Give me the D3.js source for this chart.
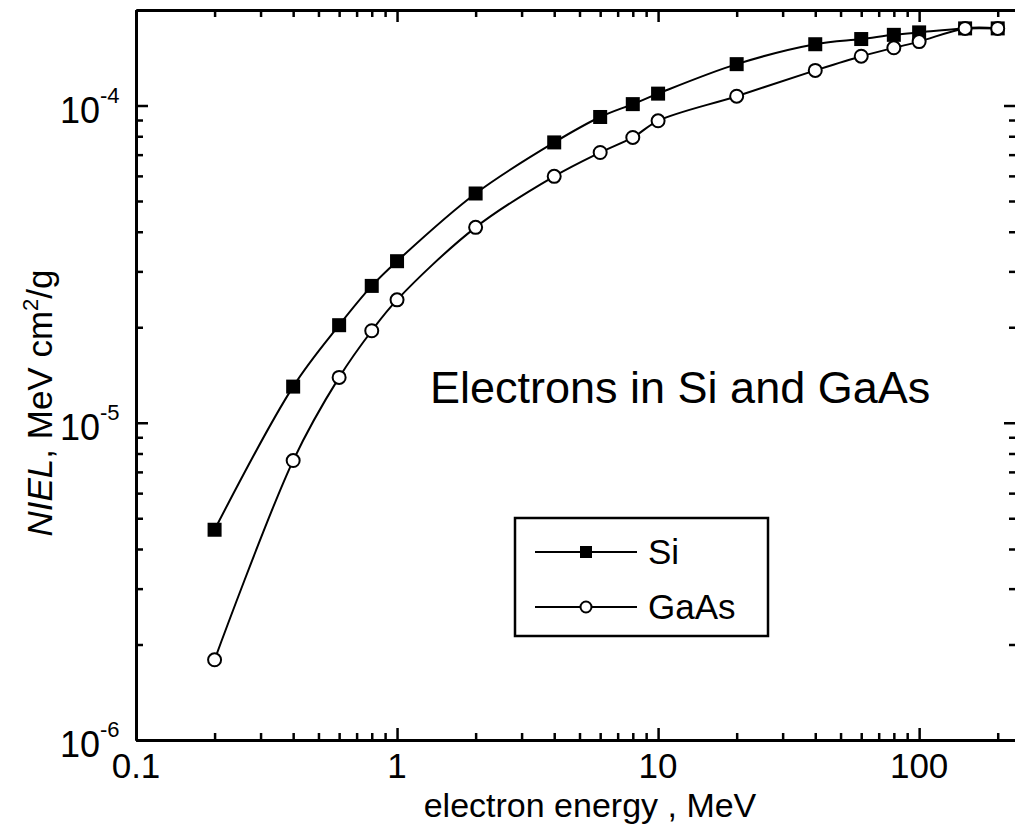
<!DOCTYPE html>
<html>
<head>
<meta charset="utf-8">
<script src="https://cdn.jsdelivr.net/npm/d3@7"></script>
<style>
  body { margin: 0; background: #fff; }
  svg { display: block; font-family: "Liberation Sans", Arial, sans-serif; }
  .axis path, .axis line { stroke: #000; }
  .axis path { stroke-width: 3; }
  .axis line { stroke-width: 2.5; }
</style>
</head>
<body>
<svg id="chart" width="1015" height="827"></svg>
<script>
// electron energy, MeV
var energy = [0.2, 0.4, 0.6, 0.8, 1, 2, 4, 6, 8, 10, 20, 40, 60, 80, 100, 150, 200];

// NIEL, MeV cm2/g
var nielSi   = [4.6e-6, 1.30e-5, 2.03e-5, 2.70e-5, 3.23e-5, 5.28e-5, 7.65e-5, 9.2e-5,
                1.01e-4, 1.09e-4, 1.35e-4, 1.56e-4, 1.62e-4, 1.67e-4, 1.70e-4, 1.75e-4, 1.75e-4];
var nielGaAs = [1.79e-6, 7.6e-6, 1.39e-5, 1.95e-5, 2.44e-5, 4.13e-5, 5.98e-5, 7.11e-5,
                7.93e-5, 8.95e-5, 1.07e-4, 1.29e-4, 1.43e-4, 1.52e-4, 1.59e-4, 1.75e-4, 1.75e-4];

var xMajor = [0.1, 1, 10, 100];
var xLabels = ["0.1", "1", "10", "100"];
var yMajor = [1e-6, 1e-5, 1e-4];
var yExp = ["-6", "-5", "-4"];

var plotLeft = 136, plotRight = 1016, plotTop = 10, plotBottom = 740;

var svg = d3.select("#chart");

var x = d3.scaleLog().domain([0.1, 235]).range([plotLeft, plotRight]);
var y = d3.scaleLog().domain([1e-6, 2e-4]).range([plotBottom, plotTop]);

function minors(domain)
{
    var out = [];
    for (var p = Math.floor(Math.log10(domain[0])); p <= Math.ceil(Math.log10(domain[1])); p++)
    {
        for (var m = 2; m <= 9; m++)
        {
            var v = m * Math.pow(10, p);
            if (v > domain[0] && v < domain[1]) out.push(v);
        }
    }
    return out;
}

var xMinor = minors(x.domain());
var yMinor = minors(y.domain());

function drawAxis(gen, scale, values, size, tx, ty)
{
    var g = svg.append("g")
        .attr("class", "axis")
        .attr("transform", "translate(" + tx + "," + ty + ")")
        .call(gen(scale).tickValues(values).tickSize(size).tickSizeOuter(0).tickFormat(""));
    g.selectAll("text").remove();
    return g;
}

// inward ticks on all four sides
[[d3.axisBottom, 0, plotBottom], [d3.axisTop, 0, plotTop]].forEach(function (a)
{
    drawAxis(a[0], x, xMajor, -12, a[1], a[2]);
    drawAxis(a[0], x, xMinor, -7, a[1], a[2]);
});
[[d3.axisLeft, plotLeft, 0], [d3.axisRight, plotRight, 0]].forEach(function (a)
{
    drawAxis(a[0], y, yMajor, -12, a[1], a[2]);
    drawAxis(a[0], y, yMinor, -7, a[1], a[2]);
});

// x tick labels
svg.selectAll(".xlab").data(xMajor).enter().append("text")
    .attr("class", "xlab")
    .attr("x", function (d) { return x(d); })
    .attr("y", plotBottom + 38)
    .attr("text-anchor", "middle")
    .style("font-size", "35px")
    .text(function (d, i) { return xLabels[i]; });

// y tick labels 10^n
svg.selectAll(".ylab").data(yMajor).enter().append("text")
    .attr("class", "ylab")
    .attr("x", 100)
    .attr("y", function (d) { return y(d) + 17; })
    .attr("text-anchor", "end")
    .style("font-size", "36px")
    .text("10");
svg.selectAll(".yexp").data(yMajor).enter().append("text")
    .attr("class", "yexp")
    .attr("x", 100)
    .attr("y", function (d) { return y(d) - 3; })
    .style("font-size", "22px")
    .text(function (d, i) { return yExp[i]; });

// axis titles
svg.append("text")
    .attr("x", 590)
    .attr("y", 817)
    .attr("text-anchor", "middle")
    .style("font-size", "34px")
    .text("electron energy , MeV");

var yt = svg.append("text")
    .attr("transform", "translate(52,403) rotate(-90)")
    .attr("text-anchor", "middle")
    .style("font-size", "35px");
yt.append("tspan").style("font-style", "italic").text("NIEL");
yt.append("tspan").text(", MeV cm");
yt.append("tspan").attr("dy", -14).style("font-size", "22px").text("2");
yt.append("tspan").attr("dy", 14).text("/g");

// annotation
svg.append("text")
    .attr("x", 430)
    .attr("y", 403)
    .style("font-size", "45px")
    .text("Electrons in Si and GaAs");

// curves
var line = d3.line()
    .x(function (d) { return x(d[0]); })
    .y(function (d) { return y(d[1]); })
    .curve(d3.curveCatmullRom.alpha(0.5));

var siData = energy.map(function (e, i) { return [e, nielSi[i]]; });
var gaData = energy.map(function (e, i) { return [e, nielGaAs[i]]; });

svg.append("path").datum(gaData).attr("d", line)
    .attr("fill", "none").attr("stroke", "#000").attr("stroke-width", 2);
svg.append("path").datum(siData).attr("d", line)
    .attr("fill", "none").attr("stroke", "#000").attr("stroke-width", 2);

svg.selectAll(".si").data(siData).enter().append("rect")
    .attr("class", "si")
    .attr("x", function (d) { return x(d[0]) - 7; })
    .attr("y", function (d) { return y(d[1]) - 7; })
    .attr("width", 14).attr("height", 14)
    .attr("fill", "#000");

svg.selectAll(".ga").data(gaData).enter().append("circle")
    .attr("class", "ga")
    .attr("cx", function (d) { return x(d[0]); })
    .attr("cy", function (d) { return y(d[1]); })
    .attr("r", 6.5)
    .attr("fill", "#fff").attr("stroke", "#000").attr("stroke-width", 2);

// legend
var lg = svg.append("g").attr("transform", "translate(515,518)");
lg.append("rect").attr("width", 253).attr("height", 118)
    .attr("fill", "#fff").attr("stroke", "#000").attr("stroke-width", 2.5);
[[34, "Si"], [89, "GaAs"]].forEach(function (r, i)
{
    lg.append("line").attr("x1", 20).attr("x2", 122).attr("y1", r[0]).attr("y2", r[0])
        .attr("stroke", "#000").attr("stroke-width", 2);
    if (i === 0)
        lg.append("rect").attr("x", 65).attr("y", r[0] - 6).attr("width", 12).attr("height", 12).attr("fill", "#000");
    else
        lg.append("circle").attr("cx", 71).attr("cy", r[0]).attr("r", 5.5)
            .attr("fill", "#fff").attr("stroke", "#000").attr("stroke-width", 2);
    lg.append("text").attr("x", 133).attr("y", r[0] + 12)
        .style("font-size", "35px").text(r[1]);
});
</script>
</body>
</html>
